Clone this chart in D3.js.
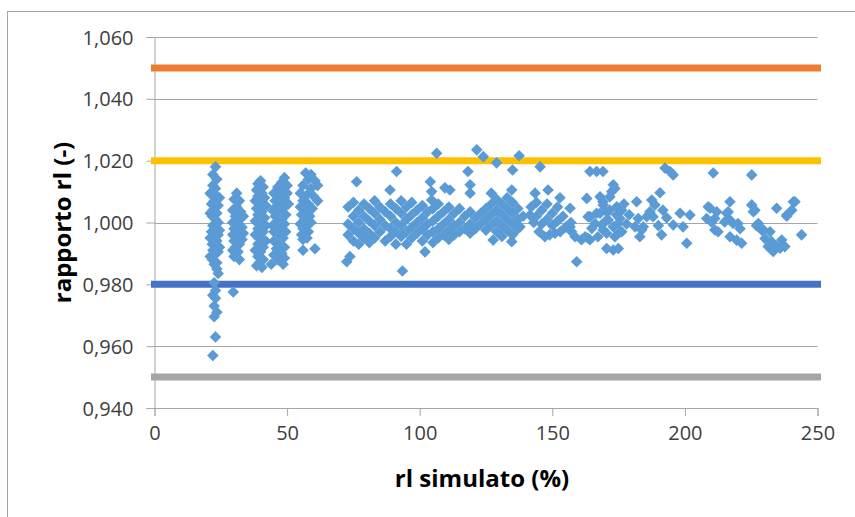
<!DOCTYPE html>
<html>
<head>
<meta charset="utf-8">
<script src="https://cdn.jsdelivr.net/npm/d3@7"></script>
<style>
  html, body { margin: 0; padding: 0; background: #fff; }
  svg { display: block; }
  text { font-family: "Open Sans", "Noto Sans", sans-serif; }
</style>
</head>
<body>
<svg id="chart" width="855" height="517"></svg>
<script>
// ---------- DATA ----------
const xTicks = [0, 50, 100, 150, 200, 250];
const yTicks = [0.94, 0.96, 0.98, 1.00, 1.02, 1.04, 1.06];
const xLabel = "rl simulato (%)";
const yLabel = "rapporto rl (-)";

// horizontal limit lines
const limitValues = [1.050, 1.020, 0.980, 0.950];
const limitColors = ["#ED7D31", "#FFC000", "#4472C4", "#A5A5A5"];

// scatter points [rl simulato, rapporto rl]
const col22 = [[23,1.018],[22,1.0155],[23.5,1.014],[22,1.012],[23,1.011],[21,1.0095],[21.5,1.009],[23.5,1.0085],[24.5,1.008],[22.5,1.007],[21.5,1.006],[24,1.0055],[22,1.004],[23.5,1.003],[21,1.003],[21.8,1.002],[23,1.001],[24,1.000],[22,0.999],[23,0.998],[24.5,0.9975],[21.5,0.997],[24,0.996],[22.5,0.995],[21,0.995],[23.5,0.994],[21.8,0.993],[23,0.992],[24.5,0.992],[22,0.991],[24,0.9905],[22.5,0.9895],[21,0.989],[21.8,0.988],[23.5,0.987],[22.5,0.9865],[23.5,0.985],[24,0.9835],[22.5,0.9805],[23,0.978],[22,0.9765],[23,0.9755],[22.5,0.973],[23.5,0.971],[22.5,0.9695],[23,0.963],[22,0.957]];
const col31 = [[31,1.0095],[30,1.0075],[32,1.007],[31,1.005],[29.5,1.004],[32.5,1.0035],[33.5,1.002],[30.5,1.002],[32,1.001],[29.5,1.000],[31,0.999],[33,0.9985],[30,0.998],[32,0.997],[33.5,0.9965],[29.5,0.996],[31.5,0.995],[33,0.9945],[30,0.994],[32,0.993],[30.5,0.992],[29.5,0.991],[31.5,0.9905],[30,0.989],[32,0.988],[29.7,0.9775]];
const col40 = [[40,1.0135],[39,1.0125],[41,1.0115],[38.5,1.0105],[40.5,1.0095],[39,1.0085],[41.5,1.008],[38,1.007],[40,1.006],[42,1.0055],[38.5,1.0045],[40.5,1.0035],[39,1.0025],[41.5,1.0015],[38,1.0005],[40,0.9995],[42,0.999],[39,0.998],[41,0.997],[38,0.996],[40,0.995],[42,0.994],[39,0.993],[41,0.992],[38,0.991],[40,0.9905],[39,0.989],[41,0.988],[39.5,0.987],[40.5,0.9855],[38.5,0.986]];
const col48 = [[49,1.0145],[48,1.013],[50,1.012],[46.5,1.0115],[48.5,1.0105],[45,1.0095],[50,1.0095],[47,1.0085],[49,1.008],[45.5,1.007],[48,1.0065],[50.5,1.006],[46,1.005],[48.5,1.0045],[44.5,1.004],[47,1.003],[49.5,1.0025],[45.5,1.002],[48,1.001],[46,1.0],[49,0.9995],[44.5,0.999],[47.5,0.998],[49.5,0.997],[45,0.997],[47,0.996],[48.5,0.995],[45,0.994],[47.5,0.993],[49,0.992],[46,0.9915],[48,0.99],[45,0.9895],[49,0.9885],[46.5,0.988],[44,0.9865],[48.5,0.9865]];
const col58 = [[57,1.016],[59,1.0155],[58,1.014],[60.5,1.0135],[61.5,1.012],[56,1.012],[59,1.011],[55,1.0095],[57.5,1.009],[60,1.0085],[61.5,1.007],[56,1.007],[58,1.006],[55,1.005],[59.5,1.0045],[57,1.0035],[55.5,1.0025],[58.5,1.002],[56.5,1.001],[59,1.0],[55,0.9995],[57.5,0.999],[56,0.998],[58,0.997],[55.5,0.996],[57.5,0.995],[56,0.9945],[56,0.991],[60.5,0.9915]];
const spreadA = [[72.5,0.9873],[73.7,0.989],[73,1.005],[73,0.9995],[73,0.996],[75,1.0065],[75,1.002],[75,0.998],[75,0.994],[76.2,1.0132],[77,1.004],[77,1.0],[77,0.9965],[77,0.993],[79,1.006],[79,1.002],[79,0.998],[79,0.995],[81,1.0045],[81,1.0005],[81,0.9965],[81,0.9935],[83,1.007],[83,1.003],[83,0.999],[83,0.995],[85,1.005],[85,1.001],[85,0.997],[87,1.0035],[87,0.999],[87,0.994],[88.8,1.0105],[89,1.006],[89,1.002],[89,0.998],[89,0.9955],[91,1.0045],[91,1.0],[91,0.997],[91,0.993],[91.3,1.0165],[93,1.007],[93,1.003],[93,0.999],[93,0.9955],[93.5,0.9843],[95,1.005],[95,1.001],[95,0.997],[95,0.993],[97,1.0065],[97,1.0025],[97,0.9985],[97,0.995],[99,1.004],[99,1.0],[99,0.9965],[101,1.0055],[101,1.0015],[101,0.998],[101,0.994],[102,0.9905],[103,1.0035],[103,0.9995],[103,0.996]];
const spreadB = [[104,1.0132],[104.5,1.010],[104.5,1.0073],[105,1.0045],[105,1.0005],[105,0.997],[105,0.9935],[106.4,1.0224],[107,1.006],[107,1.002],[107,0.998],[107,0.995],[109,1.0035],[109,0.9995],[109,0.996],[109.5,1.0112],[111,1.005],[111,1.001],[111,0.9975],[111,0.9945],[111.4,1.0105],[113,1.003],[113,0.999],[113,0.996],[115,1.0045],[115,1.0],[115,0.997],[117,1.002],[117,0.998],[118.2,1.0165],[119,1.0122],[119,1.0095],[119,1.0035],[119,0.9995],[119,0.9965],[121,1.0015],[121,0.998],[121.5,1.0235],[123,1.003],[123,0.9995],[124,1.0213],[125,1.0045],[125,1.001],[125,0.9975],[127,1.0095],[127,1.006],[127,1.0025],[127,0.999],[127.7,0.9943],[129,1.0193],[129,1.0075],[129,1.004],[129,1.0005],[129,0.997],[131,1.006],[131,1.0025],[131,0.999],[131,0.9955],[133,1.008],[133,1.0045],[133,1.001],[133,0.9975],[134.7,1.0105],[134.7,0.9938],[135,1.017],[135,1.0065],[135,1.003],[135,0.9995],[135,0.996],[137.5,1.0216],[137,1.0045],[137,1.001],[137,0.998],[137.8,0.9986],[139,1.002]];
const spreadC = [[141.6,1.0024],[142,1.005],[143,1.0],[143.5,1.0095],[144,1.0065],[144,1.002],[145,0.997],[145.4,1.018],[146,1.004],[146,0.9995],[147.2,0.9954],[148,1.006],[148,1.001],[148.4,1.0105],[149,0.996],[150,1.003],[150,0.999],[151,0.9965],[152,1.005],[152,1.0005],[152.9,1.008],[153,0.997],[154,1.002],[155,0.9985],[156.7,1.0046],[156.7,0.9986],[157,1.0],[157.3,0.997],[158.6,0.9954],[159.2,0.9873],[161,0.9944],[162.4,0.9954],[163,1.0078],[163.5,1.0019],[163.5,0.9949],[164.2,1.0165],[164.2,1.0019],[164.2,0.9944],[164.9,0.9981],[166.1,0.9997],[166.7,1.0165],[166.7,1.003],[167.2,0.9954],[168,1.0083],[168,1.003],[168.6,0.9992],[169.1,1.0165],[169.1,1.0067],[169.2,1.0057],[169.2,0.9976],[169.9,1.0003],[170.5,1.0035],[170.5,0.9965],[170.5,0.9916],[171.1,1.0008],[171.7,1.004],[171.7,1.0083],[173,1.0122],[172.4,1.010],[173,0.9986],[173,0.9911],[173.6,1.011],[173.6,0.9954],[174.3,1.0051],[174.3,1.0024],[174.8,0.9997],[174.9,0.9916]];
const spreadD = [[175.5,0.997],[175.5,1.0013],[176.2,1.004],[176.2,0.997],[177,1.006],[178,0.9995],[179,1.0025],[181.2,0.9986],[181.8,1.0067],[182.4,1.0013],[183,0.9954],[183.7,0.9976],[184.3,0.9986],[185.6,1.0019],[186.8,1.0035],[187.5,1.0073],[188,1.0019],[188.7,1.0057],[190,0.999],[190.6,1.0096],[191.2,0.996],[191.7,1.004],[192.5,1.0176],[193.1,1.0015],[194.4,1.0165],[195.6,1.0154],[195.6,0.9992],[198.2,1.003],[199.3,0.9986],[200.7,0.9933],[201.9,1.0024],[208.2,1.0013],[208.8,1.0051],[210,1.0002],[211.3,1.0013],[211.3,0.9976]];
const spreadE = [[209.5,1.0046],[210.7,1.016],[212,1.0035],[212.5,0.997],[215,1.0002],[215.8,1.003],[216.3,1.0035],[217,1.0067],[217,1.0008],[217,0.9954],[218.2,0.9997],[219.5,0.9943],[220,0.9997],[220.8,0.998],[221.4,0.9933],[225.2,1.0154],[225.2,1.0057],[225.8,1.0035],[226.4,1.004],[227,0.999],[227.7,0.9997],[229,0.9975],[229.6,0.9976],[230.2,0.9948],[231.4,0.9922],[232.1,0.997],[232.7,0.9938],[233.3,0.9906],[234.6,1.0046],[234.6,0.9922],[235.9,0.9917],[236.5,0.9943],[237.7,0.9922],[238.4,1.002],[238.4,1.0024],[240.3,1.004],[240.9,1.0067],[241.5,1.0067],[244,0.996]];

const points = [].concat(col22, col31, col40, col48, col58, spreadA, spreadB, spreadC, spreadD, spreadE);

// ---------- CHART ----------
const svg = d3.select("#chart");
const W = 855, H = 517;
const plot = { left: 154.5, right: 817.5, top: 37, bottom: 408 };

const locale = d3.formatLocale({ decimal: ",", thousands: ".", grouping: [3], currency: ["", "€"] });
const fmtY = locale.format(".3f");

const x = d3.scaleLinear().domain([0, 250]).range([plot.left, plot.right]);
const y = d3.scaleLinear().domain([0.94, 1.06]).range([plot.bottom, plot.top]);

// outer chart border
svg.append("rect")
  .attr("x", 7.5).attr("y", 11.5)
  .attr("width", W).attr("height", H)
  .attr("fill", "#fff").attr("stroke", "#a6a6a6").attr("stroke-width", 1);

// horizontal gridlines
svg.append("g")
  .selectAll("line")
  .data(yTicks.slice(1))
  .join("line")
  .attr("x1", plot.left).attr("x2", plot.right)
  .attr("y1", d => Math.round(y(d)) + 0.5).attr("y2", d => Math.round(y(d)) + 0.5)
  .attr("stroke", "#a6a6a6").attr("stroke-width", 1);

// y axis
const yAxis = d3.axisLeft(y).tickValues(yTicks).tickFormat(fmtY).tickSize(8).tickPadding(13);
const gy = svg.append("g").attr("transform", `translate(${plot.left},0)`).call(yAxis);
gy.select(".domain").attr("stroke", "#a6a6a6");
gy.selectAll(".tick line").attr("stroke", "#a6a6a6");
gy.selectAll(".tick text")
  .attr("font-size", 20).attr("fill", "#404040")
  .attr("font-family", "'Open Sans', sans-serif")
  .attr("dy", "0.35em");

// x axis
const xAxis = d3.axisBottom(x).tickValues(xTicks).tickFormat(d3.format("d")).tickSize(8).tickPadding(10);
const gx = svg.append("g").attr("transform", `translate(0,${plot.bottom})`).call(xAxis);
gx.select(".domain").attr("stroke", "#a6a6a6");
gx.selectAll(".tick line").attr("stroke", "#a6a6a6");
gx.selectAll(".tick text")
  .attr("font-size", 20).attr("fill", "#404040")
  .attr("font-family", "'Open Sans', sans-serif");

// limit lines
svg.append("g")
  .selectAll("line")
  .data(limitValues)
  .join("line")
  .attr("x1", x(0)).attr("x2", x(250))
  .attr("y1", d => y(d)).attr("y2", d => y(d))
  .attr("stroke", (d, i) => limitColors[i])
  .attr("stroke-width", 7)
  .attr("stroke-linecap", "square");

// scatter points (diamonds)
const r = 5.8;
const diamond = `M0,${-r}L${r},0L0,${r}L${-r},0Z`;
svg.append("g")
  .selectAll("path")
  .data(points)
  .join("path")
  .attr("d", diamond)
  .attr("transform", d => `translate(${x(d[0])},${y(d[1])})`)
  .attr("fill", "#5B9BD5");

// axis titles
svg.append("text")
  .attr("x", (plot.left + plot.right) / 2 - 4).attr("y", 487)
  .attr("text-anchor", "middle")
  .attr("font-size", 24).attr("font-weight", "bold").attr("fill", "#000")
  .text(xLabel);

svg.append("text")
  .attr("transform", `translate(71,${(plot.top + plot.bottom) / 2}) rotate(-90)`)
  .attr("text-anchor", "middle")
  .attr("font-size", 24).attr("font-weight", "bold").attr("fill", "#000")
  .text(yLabel);
</script>
</body>
</html>
